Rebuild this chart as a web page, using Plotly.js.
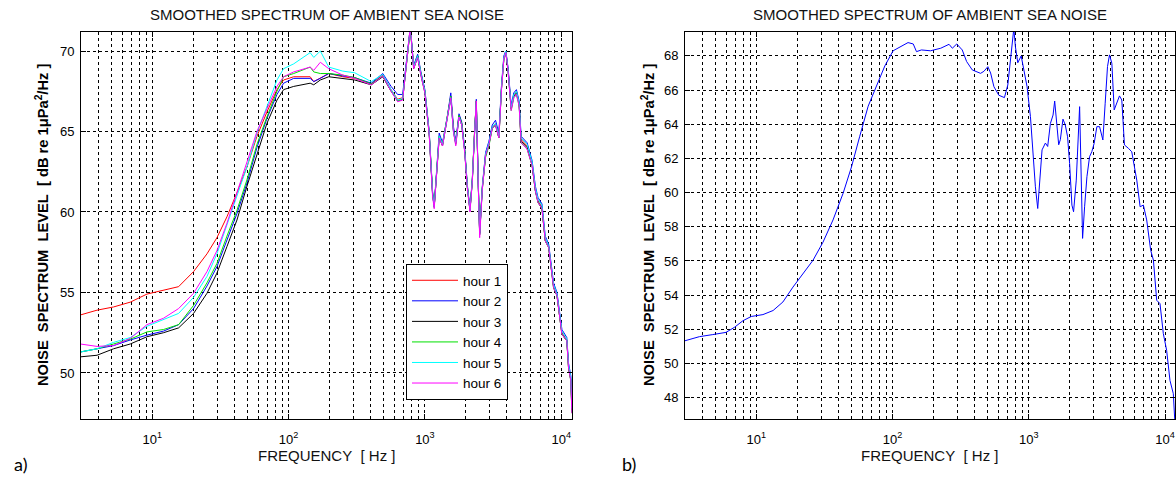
<!DOCTYPE html>
<html><head><meta charset="utf-8">
<script src="https://cdn.plot.ly/plotly-3.0.1.min.js"></script>
<style>html,body{margin:0;padding:0;background:#fff}#chart{width:1176px;height:479px}</style>
</head><body><div id="chart"></div>
<script>
// ---------- data ----------
const freqA = [2.96, 3.93, 5.20, 6.90, 9.14, 12.1, 15.6, 20.1, 25.2, 29.8, 35.3, 41.8, 49.5, 58.6, 69.3, 82.2, 91.9, 109, 144, 153, 171, 197,
  250, 305, 404, 491, 565, 631, 687, 739, 782, 827, 885, 935, 1000, 1076, 1138, 1170, 1216, 1273, 1347, 1465,
  1549, 1620, 1684, 1779, 1862, 1958, 2048, 2142, 2228, 2317, 2383, 2466, 2522, 2637, 2788, 2951, 3119, 3297, 3490, 3650,
  3796, 3925, 4083, 4295, 4488, 4694, 4912, 5082, 5623, 6114, 6465, 6760, 7226, 7640, 8090, 8790, 9310, 10120, 10990, 11320,
  11780, 11970];

const hour1 = [53.6, 53.9, 54.1, 54.4, 54.9, 55.15, 55.36, 56.3, 57.4, 58.4, 59.7, 61.2, 62.8, 64.7, 66.2, 67.6, 68.2, 68.4, 68.4, 68.1, 68.3, 68.6,
  68.4, 68.3, 67.95, 68.5, 67.6, 67.0, 67.1, 69.6, 71.5, 69.0, 69.7, 68.6, 67.5, 64.9, 61.2, 60.3, 62.6, 64.7, 64.2, 65.9,
  67.2, 65.1, 64.3, 66.0, 65.5, 63.85, 61.6, 60.1, 62.0, 65.1, 66.9, 61.6, 58.6, 61.5, 63.6, 64.3, 65.3, 65.5, 64.7, 67.8,
  69.6, 70.0, 68.8, 66.5, 67.3, 67.5, 66.75, 64.5, 64.1, 63.0, 61.4, 60.7, 60.3, 58.3, 57.85, 55.4, 54.85, 52.5, 52.05, 50.4,
  49.6, 47.7];
const hour2 = [51.3, 51.5, 51.7, 52.05, 52.35, 52.6, 53.0, 54.0, 55.4, 56.6, 58.3, 59.9, 61.8, 64.0, 65.8, 67.3, 68.0, 68.3, 68.3, 68.1, 68.3, 68.6,
  68.45, 68.35, 68.0, 68.6, 67.8, 67.3, 67.3, 69.7, 71.5, 69.1, 69.8, 68.7, 67.6, 65.0, 61.3, 60.4, 62.8, 64.9, 64.3, 66.0,
  67.4, 65.3, 64.4, 66.1, 65.6, 64.0, 61.7, 60.2, 62.1, 65.2, 67.0, 61.7, 58.7, 61.6, 63.7, 64.4, 65.4, 65.7, 64.9, 67.9,
  69.7, 70.0, 68.9, 66.6, 67.4, 67.6, 66.9, 64.7, 64.3, 63.2, 61.6, 60.9, 60.5, 58.5, 58.0, 55.6, 55.0, 52.7, 52.2, 50.6,
  49.8, 47.9];
const hour3 = [51.0, 51.1, 51.5, 51.8, 52.25, 52.5, 52.8, 53.7, 54.95, 56.2, 57.85, 59.5, 61.6, 63.6, 65.5, 66.95, 67.6, 67.8, 68.0, 67.9, 68.2, 68.4,
  68.3, 68.2, 67.9, 68.4, 67.5, 66.9, 67.0, 69.5, 71.4, 68.9, 69.6, 68.5, 67.4, 64.8, 61.1, 60.3, 62.5, 64.6, 64.1, 65.8,
  67.1, 65.0, 64.2, 65.9, 65.4, 63.8, 61.5, 60.1, 61.9, 65.0, 66.8, 61.5, 58.6, 61.4, 63.5, 64.2, 65.2, 65.4, 64.6, 67.7,
  69.5, 69.9, 68.7, 66.4, 67.2, 67.4, 66.7, 64.4, 64.0, 62.9, 61.3, 60.6, 60.2, 58.2, 57.8, 55.3, 54.8, 52.4, 52.0, 50.3,
  49.5, 47.6];
const hour4 = [51.3, 51.5, 51.8, 52.1, 52.55, 52.7, 53.0, 54.2, 55.6, 56.8, 58.5, 60.1, 62.0, 64.2, 65.9, 67.5, 68.4, 68.6, 69.0, 68.7, 68.6, 68.6,
  68.5, 68.35, 67.95, 68.45, 67.55, 66.9, 67.0, 69.6, 71.4, 69.0, 69.7, 68.6, 67.5, 64.9, 61.2, 60.3, 62.6, 64.7, 64.2, 65.9,
  67.2, 65.1, 64.3, 66.0, 65.5, 63.85, 61.6, 60.1, 62.0, 65.1, 66.9, 61.6, 58.7, 61.5, 63.4, 64.1, 65.2, 65.4, 64.6, 67.7,
  69.5, 69.9, 68.7, 66.3, 67.1, 67.3, 66.6, 64.3, 63.9, 62.9, 61.3, 60.6, 60.2, 58.2, 57.8, 55.3, 54.8, 52.4, 52.0, 50.3,
  49.5, 47.5];
const hour5 = [51.3, 51.5, 51.9, 52.2, 52.9, 53.3, 53.7, 54.7, 56.0, 57.4, 59.2, 60.95, 62.8, 64.9, 66.6, 68.2, 68.9, 69.2, 69.9, 69.6, 70.0, 69.0,
  68.75, 68.65, 68.1, 68.55, 67.6, 66.95, 67.05, 69.6, 71.5, 69.0, 69.7, 68.6, 67.5, 64.9, 61.2, 60.3, 62.6, 64.7, 64.2, 65.9,
  67.1, 65.0, 64.3, 65.9, 65.4, 63.8, 61.6, 60.1, 62.0, 65.0, 66.8, 61.6, 58.6, 61.5, 63.6, 64.3, 65.3, 65.5, 64.7, 67.8,
  69.6, 70.0, 68.8, 66.5, 67.3, 67.5, 66.8, 64.6, 64.2, 63.1, 61.5, 60.8, 60.4, 58.4, 57.9, 55.5, 54.9, 52.6, 52.1, 50.5,
  49.7, 47.8];
const hour6 = [51.8, 51.65, 51.7, 52.15, 53.0, 53.4, 54.0, 54.95, 56.3, 57.6, 59.3, 61.2, 63.0, 65.0, 66.4, 67.8, 68.4, 68.7, 69.0, 68.8, 69.3, 68.9,
  68.5, 68.3, 67.9, 68.45, 67.5, 66.85, 66.95, 69.5, 71.5, 68.9, 69.6, 68.5, 67.4, 64.8, 61.0, 60.2, 62.5, 64.6, 64.1, 65.8,
  67.1, 65.0, 64.1, 65.9, 65.4, 63.7, 61.5, 60.0, 61.9, 65.0, 66.9, 61.5, 58.4, 61.4, 63.5, 64.2, 65.2, 65.4, 64.6, 67.6,
  69.5, 69.9, 68.7, 66.3, 67.1, 67.3, 66.6, 64.3, 63.9, 62.9, 61.3, 60.6, 60.2, 58.2, 57.8, 55.3, 54.8, 52.4, 52.0, 50.3,
  49.5, 47.5];

const freqB = [3.0, 3.83, 4.8, 6.0, 6.93, 7.98, 9.19, 11.2, 13.3, 15.7,
  18.6, 22.0, 26.1, 30.9, 36.6, 43.4, 50.0, 57.5, 66.3, 76.3,
  87.8, 101, 113, 130, 142, 150, 163, 190, 226, 260,
  275, 296, 325, 350, 385, 443, 469, 501, 525, 555,
  603, 663, 702, 734, 777, 798, 831, 880, 919, 972,
  1029, 1076, 1119, 1164, 1203, 1252, 1325, 1377, 1442, 1508,
  1550, 1593, 1659, 1706, 1783, 1854, 1928, 1995, 2074, 2133,
  2233, 2362, 2415, 2484, 2570, 2673, 2795, 2904, 3020, 3162,
  3310, 3499, 3639, 3785, 3915, 4073, 4237, 4430, 4634, 4819,
  5040, 5393, 5702, 6207, 6567, 6941, 7340, 7850, 8220, 8690,
  9190, 9720, 10280, 10880, 11510, 11830];
const levelB = [51.33, 51.57, 51.69, 51.82, 52.12, 52.5, 52.75, 52.86, 53.1, 53.6,
  54.47, 55.25, 56.04, 57.1, 58.4, 59.96, 61.5, 63.3, 65.06, 66.24,
  67.41, 68.3, 68.5, 68.78, 68.7, 68.25, 68.35, 68.3, 68.45, 68.68,
  68.45, 68.7, 68.35, 67.67, 67.18, 66.98, 67.1, 67.37, 67.0, 66.2,
  65.7, 65.56, 66.3, 67.96, 69.6, 68.55, 67.6, 68.0, 67.18, 66.2,
  64.45, 62.3, 60.34, 59.07, 60.73, 62.5, 62.9, 62.7, 64.05, 64.54,
  65.36, 64.25, 62.8, 63.1, 64.3, 63.96, 63.27, 61.7, 59.27, 58.88,
  60.73, 65.03, 61.3, 57.32, 59.17, 60.93, 62.1, 62.4, 62.88, 63.86,
  63.86, 63.08, 65.23, 67.38, 68.06, 67.57, 64.84, 65.23, 65.66, 65.42,
  62.79, 62.59, 62.39, 60.73, 59.17, 59.27, 58.4, 56.63, 56.05, 53.7,
  53.5, 51.75, 50.77, 49.0, 48.23, 46.5];

const seriesNames = ['hour 1', 'hour 2', 'hour 3', 'hour 4', 'hour 5', 'hour 6'];
const decadeTicks = [10, 100, 1000, 10000];
const decadeLabels = ['10<sup>1</sup>', '10<sup>2</sup>', '10<sup>3</sup>', '10<sup>4</sup>'];
const minorFreqs = [4, 5, 6, 7, 8, 9, 20, 30, 40, 50, 60, 70, 80, 90, 200, 300, 400, 500, 600, 700, 800, 900,
  2000, 3000, 4000, 5000, 6000, 7000, 8000, 9000];
const yTicksA = [50, 55, 60, 65, 70];
const yTicksB = [48, 50, 52, 54, 56, 58, 60, 62, 64, 66, 68];

// ---------- styling ----------
const W = 1176, H = 479;
const FONT = 'Liberation Sans, Arial, Helvetica, sans-serif';
const colors = ['#ff0000', '#0000ff', '#000000', '#00e000', '#00ffff', '#ff00ff'];
const seriesA = [hour1, hour2, hour3, hour4, hour5, hour6];

const traces = seriesA.map((vals, i) => ({
  x: freqA, y: vals, type: 'scatter', mode: 'lines', name: seriesNames[i],
  line: {color: colors[i], width: 1}, xaxis: 'x', yaxis: 'y', showlegend: true
}));
traces.push({x: freqB, y: levelB, type: 'scatter', mode: 'lines', name: 'b',
  line: {color: '#0000ff', width: 1}, xaxis: 'x2', yaxis: 'y2', showlegend: false});

const GRID = {showgrid: true, gridcolor: '#000', gridwidth: 1, griddash: '3px,3px'};
function xAx(domain, anchor, r) {
  return Object.assign({type: 'log', range: r, domain: domain, anchor: anchor,
    tickmode: 'array', tickvals: decadeTicks, ticktext: decadeLabels,
    ticks: 'inside', ticklen: 5, tickcolor: '#000', tickwidth: 1,
    minor: Object.assign({tickmode: 'array', tickvals: minorFreqs, ticks: 'inside', ticklen: 3, tickcolor: '#000'}, GRID),
    showline: true, linecolor: '#000', linewidth: 1, mirror: 'ticks', zeroline: false,
    tickfont: {family: FONT, size: 13, color: '#000'}, ticklabelstandoff: 8, fixedrange: true}, GRID);
}
function yAx(domain, anchor, r, tv) {
  return Object.assign({range: r, domain: domain, anchor: anchor, tickmode: 'array', tickvals: tv,
    ticks: 'inside', ticklen: 5, tickcolor: '#000', tickwidth: 1,
    showline: true, linecolor: '#000', linewidth: 1, mirror: 'ticks', zeroline: false,
    tickfont: {family: FONT, size: 13, color: '#000'}, ticklabelstandoff: 3, fixedrange: true}, GRID);
}
const yDom = [1 - 419 / H, 1 - 32 / H];
const ylab = 'NOISE\u00a0\u00a0SPECTRUM\u00a0\u00a0LEVEL\u00a0\u00a0[ dB re 1\u03bcPa<sup>2</sup>/Hz ]';
const title = 'SMOOTHED SPECTRUM OF AMBIENT SEA NOISE';
const xlab = 'FREQUENCY\u00a0\u00a0[ Hz ]';

const ann = (text, x, y, o) => Object.assign({text: text, x: x / W, y: 1 - y / H, xref: 'paper', yref: 'paper',
  showarrow: false, xanchor: 'center', yanchor: 'middle', font: {family: FONT, size: 15, color: '#111'}}, o || {});
const YLF = {family: FONT, size: 14.7, color: '#000', weight: 'bold'};

const layout = {
  width: W, height: H, margin: {l: 0, r: 0, t: 0, b: 0}, paper_bgcolor: '#fff', plot_bgcolor: '#fff',
  xaxis: xAx([81 / W, 572 / W], 'y', [Math.log10(3), Math.log10(12000)]),
  yaxis: yAx(yDom, 'x', [47.14, 71.18], yTicksA),
  xaxis2: xAx([685 / W, 1175 / W], 'y2', [Math.log10(3), 4.0734]),
  yaxis2: yAx(yDom, 'x2', [46.75, 69.4], yTicksB),
  showlegend: true,
  legend: {x: 406 / W, y: 1 - 264 / H, xanchor: 'left', yanchor: 'top', bgcolor: '#fff',
    bordercolor: '#000', borderwidth: 1, font: {family: FONT, size: 13.5, color: '#000'}, itemwidth: 46, tracegroupgap: 0},
  annotations: [
    ann(title, 326.5, 15),
    ann(title, 930, 15),
    ann(xlab, 326.5, 455),
    ann(xlab, 930, 455),
    ann(ylab, 42, 225, {textangle: -90, font: YLF}),
    ann(ylab, 648, 225, {textangle: -90, font: YLF}),
    ann('a)', 20, 464, {font: {family: 'Lato, sans-serif', size: 18, color: '#000'}}),
    ann('b)', 629, 464, {font: {family: 'Lato, sans-serif', size: 18, color: '#000'}})
  ]
};
Plotly.newPlot('chart', traces, layout, {staticPlot: true, displayModeBar: false});
</script></body></html>
